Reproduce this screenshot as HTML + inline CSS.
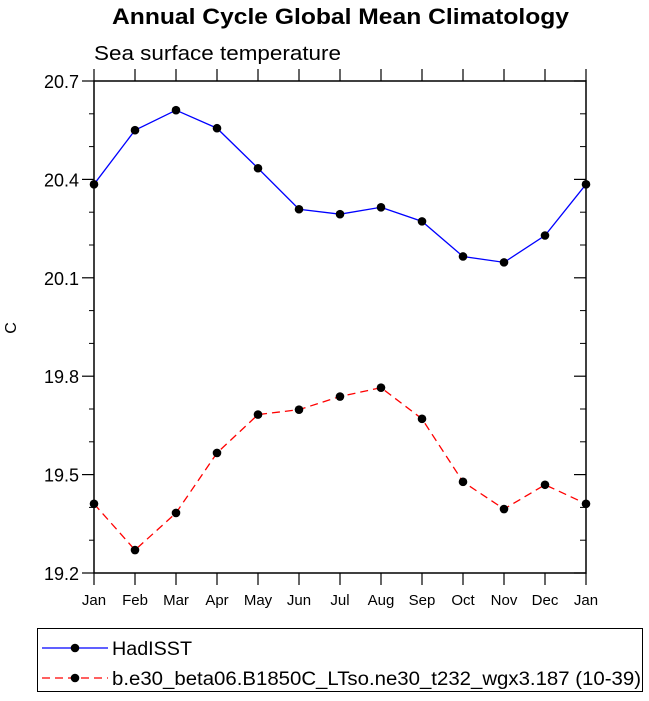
<!DOCTYPE html>
<html><head><meta charset="utf-8"><style>
body{margin:0;background:#fff;}
svg{display:block;font-family:"Liberation Sans",Helvetica,sans-serif;}
</style></head><body>
<svg id="chart" width="649" height="701">
<text x="112" y="24" font-size="22" font-weight="bold" textLength="457" lengthAdjust="spacingAndGlyphs">Annual Cycle Global Mean Climatology</text>
<text x="94" y="60" font-size="20" textLength="247" lengthAdjust="spacingAndGlyphs">Sea surface temperature</text>
<text x="16" y="328" text-anchor="middle" font-size="16" transform="rotate(-90 16 328)">C</text>
<g id="axes"></g>
<g id="series"></g>
<g id="legend">
<rect x="37.5" y="628.5" width="605" height="63" fill="none" stroke="#000"/>
<g>
<line x1="42" y1="648" x2="108" y2="648" stroke="#0000ff" stroke-width="1.3"/>
<circle cx="75" cy="648" r="4.3" fill="#000"/>
<text x="112" y="655" font-size="19" textLength="80" lengthAdjust="spacingAndGlyphs">HadISST</text></g>
<g>
<line x1="42" y1="678" x2="108" y2="678" stroke="#ff0000" stroke-width="1.3" stroke-dasharray="8,5"/>
<circle cx="75" cy="678" r="4.3" fill="#000"/>
<text x="112" y="685" font-size="19" textLength="529" lengthAdjust="spacingAndGlyphs">b.e30_beta06.B1850C_LTso.ne30_t232_wgx3.187 (10-39)</text></g>
</g>
</svg>
<script>
const months=["Jan","Feb","Mar","Apr","May","Jun","Jul","Aug","Sep","Oct","Nov","Dec","Jan"];
const obsValues=[20.385,20.55,20.611,20.556,20.434,20.309,20.294,20.315,20.272,20.165,20.147,20.229,20.385];
const modelValues=[19.411,19.270,19.383,19.566,19.683,19.698,19.738,19.765,19.670,19.478,19.395,19.469,19.411];
const yTicks=[19.2,19.5,19.8,20.1,20.4,20.7];
const yTickLabels=["19.2","19.5","19.8","20.1","20.4","20.7"];
const NS="http://www.w3.org/2000/svg";
const L=94,R=586,T=81,B=573,ymin=19.2,ymax=20.7;
const xs=i=>L+(R-L)*i/(months.length-1);
const ys=v=>B-(v-ymin)/(ymax-ymin)*(B-T);
function mk(tag,attrs,parent){const e=document.createElementNS(NS,tag);for(const k in attrs)e.setAttribute(k,attrs[k]);parent.appendChild(e);return e;}
const ax=document.getElementById('axes');
const fr=mk('rect',{x:L,y:T,width:R-L,height:B-T,fill:'none',stroke:'#000','stroke-width':1.5},ax);


months.forEach((m,i)=>{
  const x=xs(i);
  mk('line',{x1:x,y1:B,x2:x,y2:B+12,stroke:'#000','stroke-width':1.2},ax);
  mk('line',{x1:x,y1:T,x2:x,y2:T-12,stroke:'#000','stroke-width':1.2},ax);
  const t=mk('text',{x:x,y:B+32,'text-anchor':'middle','font-size':15},ax);
  t.textContent=m;
  
  
});
yTicks.forEach((v,i)=>{
  const y=ys(v);
  mk('line',{x1:L-12,y1:y,x2:L,y2:y,stroke:'#000','stroke-width':1.2},ax);
  mk('line',{x1:R-12,y1:y,x2:R,y2:y,stroke:'#000','stroke-width':1.2},ax);
  const t=mk('text',{x:L-15,y:y+7,'text-anchor':'end','font-size':18},ax);
  t.textContent=yTickLabels[i];
  
  
  if(i<yTicks.length-1){for(let k=1;k<3;k++){const ym=ys(v+0.1*k);
    mk('line',{x1:L-5,y1:ym,x2:L,y2:ym,stroke:'#000','stroke-width':1},ax);
    mk('line',{x1:R-6,y1:ym,x2:R,y2:ym,stroke:'#000','stroke-width':1},ax);}}
});
const sg=document.getElementById('series');
function series(vals,color,dash,name){
  const g=mk('g',{},sg);
  
  
  const p=mk('polyline',{points:vals.map((v,i)=>xs(i)+','+ys(v)).join(' '),fill:'none',stroke:color,'stroke-width':1.3},g);
  if(dash)p.setAttribute('stroke-dasharray',dash);
  vals.forEach((v,i)=>{const c=mk('circle',{cx:xs(i),cy:ys(v),r:4.3,fill:'#000'},g);
    
    });
}
series(obsValues,'#0000ff',null,'hadisst-series');
series(modelValues,'#ff0000','8,5','model-series');
</script>
</body></html>
